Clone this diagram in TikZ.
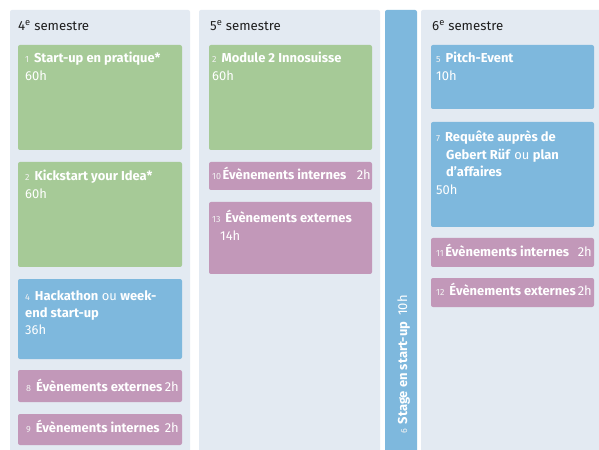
\documentclass[tikz,border=0pt]{standalone}
\usepackage{fontspec}
\setmainfont{Fira Sans}
\usetikzlibrary{fit}
\definecolor{colbg}{HTML}{E3EAF2}
\definecolor{modgreen}{HTML}{A6CA97}
\definecolor{modblue}{HTML}{7EB8DD}
\definecolor{modmauve}{HTML}{C298B9}
\definecolor{semgray}{HTML}{1E1E1E}
\newcommand{\nr}[1]{{\fontsize{9}{10}\selectfont\color{white!90!gray}#1}\hspace{1.5bp}}
\newcommand{\ttl}[1]{\textbf{#1}}
\newcommand{\lines}[1]{\parbox[t]{160bp}{\raggedright\leavevmode #1}}
\tikzset{
  colbox/.style={fill=colbg, rounded corners=2bp, inner sep=0},
  greenbox/.style={fill=modgreen, rounded corners=2bp, inner sep=0},
  bluebox/.style={fill=modblue, rounded corners=2bp, inner sep=0},
  mauvebox/.style={fill=modmauve, rounded corners=2bp, inner sep=0},
  txt/.style={text=white, inner sep=0, anchor=base west,
    font=\fontsize{13}{17.5}\selectfont},
  hrsr/.style={txt, anchor=base east},
  semtitle/.style={text=semgray, inner sep=0, anchor=base west,
    font=\fontsize{13.3}{15}\selectfont}
}
\begin{document}
\begin{tikzpicture}[x=1bp, y=-1bp]
  \clip (0,0) rectangle (599,450);
  \fill [white] (0,0) rectangle (599,450);
  % columns
  \node [colbox, fit={(10,10) (190,456)}] (c4) {};
  \node [colbox, fit={(199,10) (380,456)}] (c5) {};
  \node [bluebox, fit={(385,10) (417,456)}] (c6) {};
  \node [colbox, fit={(421,10) (606,456)}] (cc6) {};
  \node [semtitle] (s4) at (18,31) {4\textsuperscript{e} semestre};
  \node [semtitle] (s5) at (210,31) {5\textsuperscript{e} semestre};
  \node [semtitle] (s6) at (432,31) {6\textsuperscript{e} semestre};
  % 4e semestre
  \node [greenbox, fit={(18,45) (182,150)}] (b1) {};
  \node [txt] (t1) at (25,63) {\lines{\nr{1} \ttl{Start-up en pratique*}\\60h}};
  \node [greenbox, fit={(18,162) (182,267)}] (b2) {};
  \node [txt] (t2) at (25,181) {\lines{\nr{2} \ttl{Kickstart your Idea*}\\60h}};
  \node [bluebox, fit={(18,279) (182,359)}] (b4) {};
  \node [txt] (t4) at (25,300) {\lines{\nr{4} \ttl{Hackathon} ou \ttl{week-}\\\ttl{end start-up}\\36h}};
  \node [mauvebox, fit={(18,370) (182,402)}] (b8) {};
  \node [txt] (t8) at (26,391) {\nr{8} \ttl{Évènements externes}};
  \node [hrsr] (h8) at (179,391) {2h};
  \node [mauvebox, fit={(18,414) (182,445)}] (b9) {};
  \node [txt] (t9) at (26,432) {\nr{9} \ttl{Évènements internes}};
  \node [hrsr] (h9) at (179,432) {2h};
  % 5e semestre
  \node [greenbox, fit={(209,45) (372,150)}] (b2m) {};
  \node [txt] (t2m) at (212,63) {\lines{\nr{2} \ttl{Module 2 Innosuisse}\\60h}};
  \node [mauvebox, fit={(209,162) (372,190)}] (b10) {};
  \node [txt] (t10) at (212,180) {\nr{10}\ttl{Évènements internes}};
  \node [hrsr] (h10) at (371,180) {2h};
  \node [mauvebox, fit={(209,202) (372,274)}] (b13) {};
  \node [txt] (t13) at (212,223) {\lines{\nr{13} \ttl{Évènements externes}\\\hspace*{8bp}14h}};
  % stage
  \node [txt, rotate=90] (t6) at (407,434) {\nr{6} \ttl{Stage en start-up}\hspace{6bp}10h};
  % 6e semestre
  \node [bluebox, fit={(431,45) (594,109)}] (b5) {};
  \node [txt] (t5) at (436,63) {\lines{\nr{5} \ttl{Pitch-Event}\\10h}};
  \node [bluebox, fit={(431,122) (594,227)}] (b7) {};
  \node [txt] (t7) at (436,142) {\lines{\nr{7} \ttl{Requête auprès de}\\\hspace*{10bp}\ttl{Gebert Rüf} ou \ttl{plan}\\\hspace*{10bp}\ttl{d’affaires}\\50h}};
  \node [mauvebox, fit={(431,238) (594,267)}] (b11) {};
  \node [txt] (t11) at (436,257) {\nr{11}\ttl{Évènements internes}};
  \node [hrsr] (h11) at (592,257) {2h};
  \node [mauvebox, fit={(431,278) (594,307)}] (b12) {};
  \node [txt] (t12) at (436,296) {\nr{12} \ttl{Évènements externes}};
  \node [hrsr] (h12) at (592,296) {2h};
\end{tikzpicture}
\end{document}
